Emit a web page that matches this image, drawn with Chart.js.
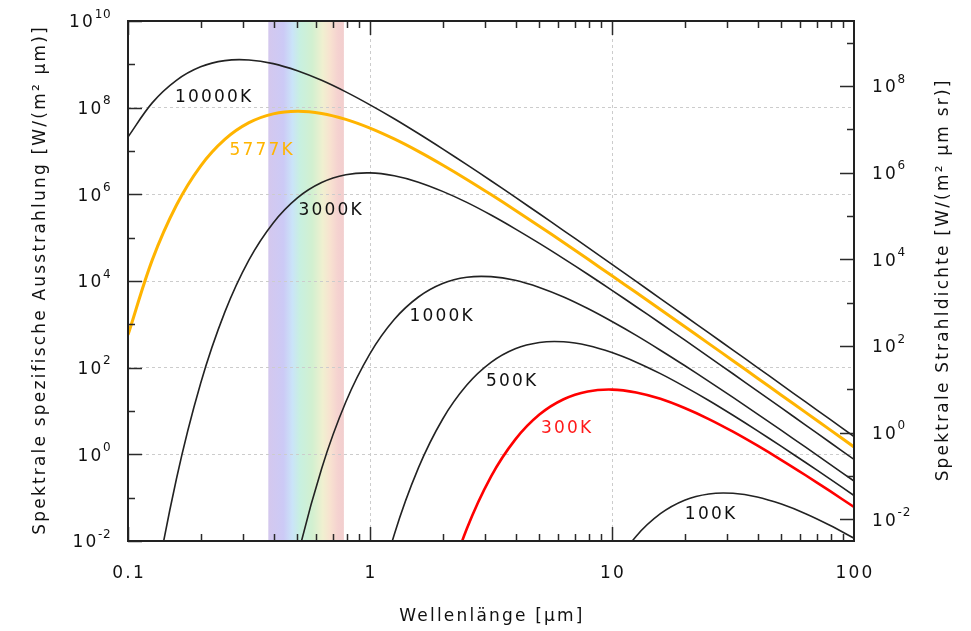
<!DOCTYPE html>
<html>
<head>
<meta charset="utf-8">
<script src="https://cdn.jsdelivr.net/npm/chart.js@4/dist/chart.umd.min.js"></script>
<style>
  html, body { margin: 0; padding: 0; background: #fff; }
  #c { display: block; }
</style>
</head>
<body>
<canvas id="c" width="971" height="631"></canvas>
<script>
// Wavelengths in µm, ten steps per decade from 0.1 to 100
const wavelengths = [0.1, 0.1259, 0.1585, 0.1995, 0.2512, 0.3162, 0.3981, 0.5012, 0.631, 0.7943,
  1, 1.259, 1.585, 1.995, 2.512, 3.162, 3.981, 5.012, 6.31, 7.943,
  10, 12.59, 15.85, 19.95, 25.12, 31.62, 39.81, 50.12, 63.1, 79.43, 100];

// Spectral exitance in W/(m² µm) for each temperature (null = far below the plotted range)
const t10000 = [2.11e7, 1.29e8, 4.27e8, 8.75e8, 1.22e9, 1.26e9, 1.04e9, 7.11e8, 4.27e8, 2.31e8,
  1.16e8, 5.55e7, 2.53e7, 1.12e7, 4.84e6, 2.06e6, 8.59e5, 3.56e5, 1.46e5, 5.96e4,
  2.42e4, 9.77e3, 3.94e3, 1.58e3, 635, 254, 102, 40.6, 16.2, 6.47, 2.58];
const t5777 = [570, 3.03e4, 5.60e5, 4.49e6, 1.85e7, 4.50e7, 7.19e7, 8.28e7, 7.36e7, 5.38e7,
  3.38e7, 1.90e7, 9.82e6, 4.76e6, 2.21e6, 9.89e5, 4.31e5, 1.84e5, 7.73e4, 3.21e4,
  1.32e4, 5.41e3, 2.20e3, 889, 359, 145, 57.9, 23.2, 9.29, 3.72, 1.48];
const t3000 = [5.5e-8, 3.37e-4, 0.269, 43.1, 1.91e3, 3.07e4, 2.19e5, 8.28e5, 1.87e6, 2.83e6,
  3.12e6, 2.68e6, 1.91e6, 1.17e6, 6.52e5, 3.33e5, 1.60e5, 7.38e4, 3.29e4, 1.43e4,
  6.08e3, 2.55e3, 1.06e3, 436, 178, 72.3, 29.2, 11.8, 4.73, 1.90, 0.762];
const t1000 = [null, null, null, null, null, null, 7.53e-6, 4.04e-3, 0.467, 16.1,
  211, 1.29e3, 4.27e3, 8.75e3, 1.22e4, 1.26e4, 1.04e4, 7.11e3, 4.27e3, 2.31e3,
  1.16e3, 555, 253, 112, 48.4, 20.6, 8.59, 3.56, 1.46, 0.596, 0.242];
const t500 = [null, null, null, null, null, null, null, null, null, 2.18e-7,
  1.19e-4, 0.0140, 0.486, 6.46, 39.6, 132, 272, 381, 395, 325,
  223, 134, 72.8, 36.6, 17.5, 7.98, 3.53, 1.52, 0.647, 0.271, 0.112];
const t300 = [null, null, null, null, null, null, null, null, null, null,
  null, null, 2.69e-6, 4.31e-4, 0.0191, 0.307, 2.19, 8.28, 18.7, 28.3,
  31.2, 26.8, 19.1, 11.7, 6.52, 3.33, 1.60, 0.738, 0.329, 0.143, 0.0608];
const t100 = [null, null, null, null, null, null, null, null, null, null,
  null, null, null, null, null, null, null, null, 4.67e-6, 1.61e-4,
  2.11e-3, 0.0129, 0.0427, 0.0875, 0.122, 0.126, 0.104, 0.0711, 0.0427, 0.0231, 0.0116];

// Curve names
const curveNames = ['10000K', '5777K', '3000K', '1000K', '500K', '300K', '100K'];

// Tick labels
const xTickLabels = ['0.1', '1', '10', '100'];
const yLeftExponents = [-2, 0, 2, 4, 6, 8, 10];
const yRightExponents = [-2, 0, 2, 4, 6, 8];

// Visible light band, µm
const visibleBand = [0.38, 0.78];

// Radiance of a Lambertian emitter = exitance / π (right-hand axis)
const STERAD = Math.PI;

// Styling and label placement (wavelength µm, exitance) for each curve
const curveStyle = [
  { values: t10000, color: '#222222', width: 1.6, text: '#111', at: [0.2245, 1.67e8] },
  { values: t5777,  color: '#FFB400', width: 3.0, text: '#FFB400', at: [0.3545, 1.05e7] },
  { values: t3000,  color: '#222222', width: 1.6, text: '#111', at: [0.6835, 4.12e5] },
  { values: t1000,  color: '#222222', width: 1.6, text: '#111', at: [1.966, 1476] },
  { values: t500,   color: '#222222', width: 1.6, text: '#111', at: [3.825, 46.7] },
  { values: t300,   color: '#FF0000', width: 2.6, text: '#FF1A1A', at: [6.457, 3.84] },
  { values: t100,   color: '#222222', width: 1.6, text: '#111', at: [25.4, 0.0397] }
];

const FONT = '17px "DejaVu Sans", "Liberation Sans", sans-serif';
const SUP_FONT = '12px "DejaVu Sans", "Liberation Sans", sans-serif';
const SPACING = 2.2;

function setFont(ctx, font, spacing) {
  ctx.font = font;
  if ('letterSpacing' in ctx) ctx.letterSpacing = spacing + 'px';
}

// "10" with a raised exponent; y is the vertical centre of the "10"
function drawPower(ctx, exp, x, y, align) {
  setFont(ctx, FONT, SPACING);
  const wb = ctx.measureText('10').width;
  setFont(ctx, SUP_FONT, 0.8);
  const sup = String(exp);
  const ws = ctx.measureText(sup).width;
  const x0 = align === 'right' ? x - wb - ws : x;
  ctx.textAlign = 'left';
  ctx.textBaseline = 'alphabetic';
  setFont(ctx, FONT, SPACING);
  ctx.fillText('10', x0, y + 6.2);
  setFont(ctx, SUP_FONT, 0.8);
  ctx.fillText(sup, x0 + wb - 0.5, y - 3.4);
}

function drawRotated(ctx, text, baselineX, cy) {
  ctx.save();
  ctx.translate(baselineX, cy);
  ctx.rotate(-Math.PI / 2);
  ctx.textAlign = 'center';
  ctx.textBaseline = 'alphabetic';
  ctx.fillText(text, SPACING / 2, 0);
  ctx.restore();
}

const framePlugin = {
  id: 'frame',
  beforeDraw(chart) {
    // pastel visible spectrum behind grid and curves
    const ctx = chart.ctx, xs = chart.scales.x, a = chart.chartArea;
    const x0 = xs.getPixelForValue(visibleBand[0]);
    const x1 = xs.getPixelForValue(visibleBand[1]);
    const g = ctx.createLinearGradient(x0, 0, x1, 0);
    g.addColorStop(0.00, 'rgb(212,200,238)');
    g.addColorStop(0.20, 'rgb(204,202,246)');
    g.addColorStop(0.32, 'rgb(202,228,248)');
    g.addColorStop(0.42, 'rgb(200,240,224)');
    g.addColorStop(0.58, 'rgb(210,240,208)');
    g.addColorStop(0.72, 'rgb(240,240,208)');
    g.addColorStop(0.82, 'rgb(248,226,208)');
    g.addColorStop(0.92, 'rgb(245,210,208)');
    g.addColorStop(1.00, 'rgb(242,206,206)');
    ctx.save();
    ctx.fillStyle = g;
    ctx.fillRect(x0, a.top, x1 - x0, a.bottom - a.top);
    ctx.restore();
  },
  afterDraw(chart) {
    const ctx = chart.ctx;
    const xs = chart.scales.x, yl = chart.scales.y, yr = chart.scales.y2;
    const { left, right, top, bottom } = chart.chartArea;
    ctx.save();

    // inward tick marks
    ctx.strokeStyle = '#2a2a2a';
    ctx.lineWidth = 1.5;
    ctx.beginPath();
    for (let d = -1; d <= 1; d++) {
      for (let m = 1; m <= 9; m++) {
        const px = Math.round(xs.getPixelForValue(m * Math.pow(10, d))) + 0.5;
        const len = m === 1 ? 14 : 7;
        ctx.moveTo(px, bottom); ctx.lineTo(px, bottom - len);
        ctx.moveTo(px, top); ctx.lineTo(px, top + len);
      }
    }
    for (let e = -2; e <= 10; e++) {
      const py = Math.round(yl.getPixelForValue(Math.pow(10, e))) + 0.5;
      const len = e % 2 === 0 ? 14 : 7;
      ctx.moveTo(left, py); ctx.lineTo(left + len, py);
    }
    for (let e = -2; e <= 9; e++) {
      const py = Math.round(yr.getPixelForValue(Math.pow(10, e))) + 0.5;
      const len = e % 2 === 0 ? 14 : 7;
      ctx.moveTo(right, py); ctx.lineTo(right - len, py);
    }
    ctx.stroke();

    // frame
    ctx.strokeStyle = '#222';
    ctx.lineWidth = 2;
    ctx.strokeRect(left, top, right - left, bottom - top);

    // tick labels
    ctx.fillStyle = '#111';
    yLeftExponents.forEach(e => drawPower(ctx, e, 112, yl.getPixelForValue(Math.pow(10, e)), 'right'));
    yRightExponents.forEach(e => drawPower(ctx, e, 872, yr.getPixelForValue(Math.pow(10, e)), 'left'));
    setFont(ctx, FONT, SPACING);
    ctx.textAlign = 'center';
    ctx.textBaseline = 'alphabetic';
    xTickLabels.forEach(t => ctx.fillText(t, xs.getPixelForValue(parseFloat(t)) + SPACING / 2, 577.5));

    // axis titles
    ctx.fillText('Wellenlänge [µm]', (left + right) / 2 + 1, 621);
    drawRotated(ctx, 'Spektrale spezifische Ausstrahlung [W/(m² µm)]', 44.5, (top + bottom) / 2);
    drawRotated(ctx, 'Spektrale Strahldichte [W/(m² µm sr)]', 948, (top + bottom) / 2);

    // curve names
    ctx.textBaseline = 'middle';
    curveStyle.forEach((c, i) => {
      ctx.fillStyle = c.text;
      ctx.fillText(curveNames[i], xs.getPixelForValue(c.at[0]) + SPACING / 2, yl.getPixelForValue(c.at[1]));
    });
    ctx.restore();
  }
};

new Chart(document.getElementById('c'), {
  type: 'line',
  data: {
    datasets: curveStyle.map((c, i) => ({
      label: curveNames[i],
      data: wavelengths.map((w, k) => ({ x: w, y: c.values[k] })),
      borderColor: c.color,
      borderWidth: c.width,
      pointRadius: 0,
      fill: false,
      tension: 0.35,
      capBezierPoints: false,
      spanGaps: false,
      clip: 0
    }))
  },
  options: {
    responsive: false,
    devicePixelRatio: 1,
    animation: false,
    events: [],
    layout: { padding: { top: 21, left: 0, right: 0, bottom: 0 } },
    plugins: { legend: { display: false }, tooltip: { enabled: false } },
    scales: {
      x: {
        type: 'logarithmic', position: 'bottom', min: 0.1, max: 100,
        afterBuildTicks: s => { s.ticks = [{ value: 1 }, { value: 10 }]; },
        afterFit: s => { s.height = 90; },
        ticks: { display: false },
        grid: { color: '#cccccc', lineWidth: 1, drawTicks: false },
        border: { display: false, dash: [3, 3] }
      },
      y: {
        type: 'logarithmic', position: 'left', min: 1e-2, max: 1e10,
        afterBuildTicks: s => { s.ticks = yLeftExponents.slice(1, -1).map(e => ({ value: Math.pow(10, e) })); },
        afterFit: s => { s.width = 128; },
        ticks: { display: false },
        grid: { color: '#cccccc', lineWidth: 1, drawTicks: false },
        border: { display: false, dash: [3, 3] }
      },
      y2: {
        type: 'logarithmic', position: 'right', min: 1e-2 / STERAD, max: 1e10 / STERAD,
        afterFit: s => { s.width = 117; },
        ticks: { display: false },
        grid: { display: false, drawTicks: false },
        border: { display: false }
      }
    }
  },
  plugins: [framePlugin]
});
</script>
</body>
</html>
